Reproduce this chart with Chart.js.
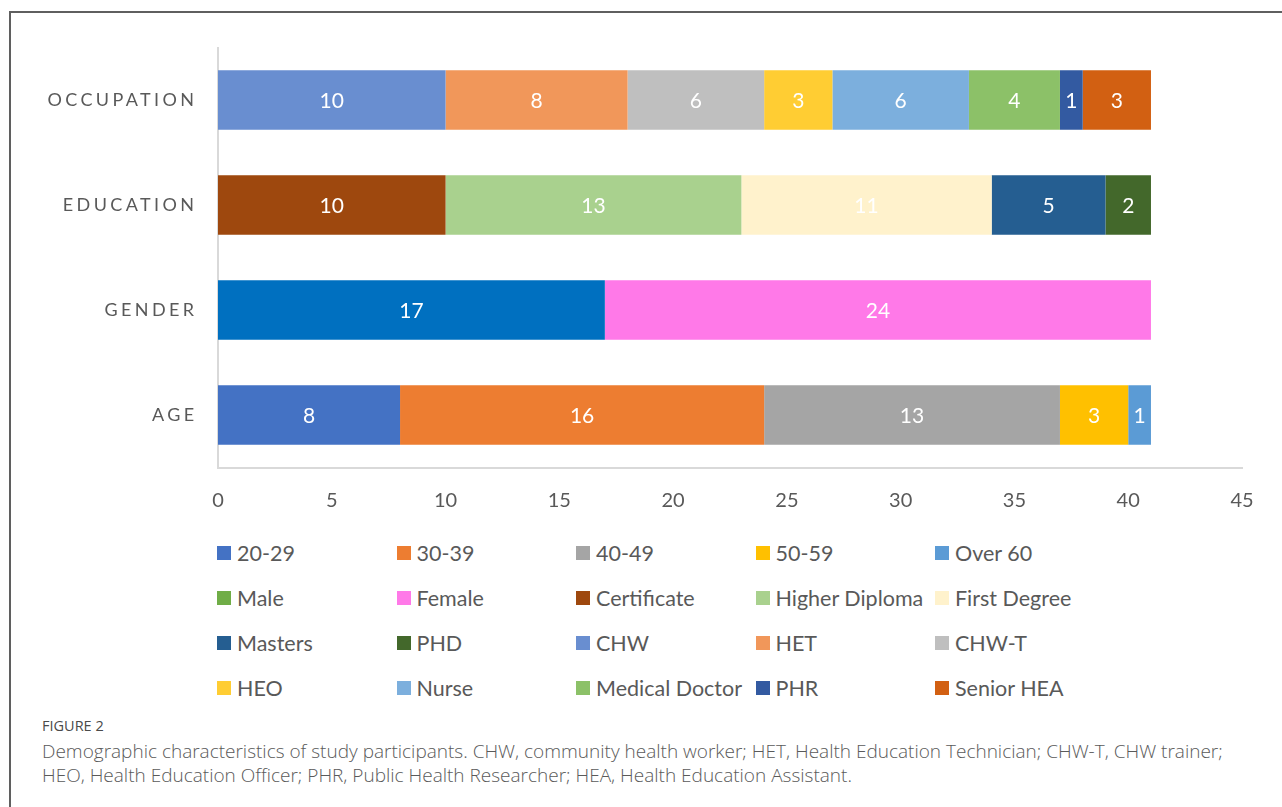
<!DOCTYPE html>
<html>
<head>
<meta charset="utf-8">
<script src="https://cdn.jsdelivr.net/npm/chart.js@4.4.1/dist/chart.umd.min.js"></script>
<style>
  html, body { margin: 0; padding: 0; background: #ffffff; }
  body { width: 1282px; height: 807px; position: relative; overflow: hidden; font-family: Lato, "Open Sans", sans-serif; }
  #frame { position: absolute; left: 9px; top: 11px; width: 1300px; height: 820px; border-left: 2px solid #5f5f5f; border-top: 2px solid #5f5f5f; }
  #wrap { position: absolute; left: 0; top: 0; width: 1282px; height: 530px; }
  #legend { position: absolute; left: 217px; top: 530px; display: grid; grid-template-columns: repeat(5, 179.5px); grid-auto-rows: 45px; }
  .li { display: flex; align-items: center; white-space: nowrap; font-size: 21.5px; color: #595959; }
  .sw { width: 14px; height: 14px; margin-right: 6px; flex: none; }
  #fig { position: absolute; left: 42px; top: 716px; font-family: "Open Sans", sans-serif; font-size: 14.5px; font-weight: 500; color: #4a4a4a; }
  #cap { position: absolute; left: 42px; top: 739px; width: 1240px; white-space: nowrap; font-family: "Open Sans", sans-serif; font-size: 19px; line-height: 24px; color: #5a5a5a; font-weight: 300; }
</style>
</head>
<body>
<div id="frame"></div>
<div id="wrap"><canvas id="c" width="1282" height="530"></canvas></div>
<div id="legend"></div>
<div id="fig">FIGURE 2</div>
<div id="cap">Demographic characteristics of study participants. CHW, community health worker; HET, Health Education Technician; CHW-T, CHW trainer;<br>HEO, Health Education Officer; PHR, Public Health Researcher; HEA, Health Education Assistant.</div>
<script>
// ---- data ----
const categories = ['OCCUPATION', 'EDUCATION', 'GENDER', 'AGE'];
const xTicks = [0, 5, 10, 15, 20, 25, 30, 35, 40, 45];

const ageNames = ['20-29', '30-39', '40-49', '50-59', 'Over 60'];
const ageValues = [8, 16, 13, 3, 1];

const genderNames = ['Male', 'Female'];
const genderValues = [17, 24];

const educationNames = ['Certificate', 'Higher Diploma', 'First Degree', 'Masters', 'PHD'];
const educationValues = [10, 13, 11, 5, 2];

const occupationNames = ['CHW', 'HET', 'CHW-T', 'HEO', 'Nurse', 'Medical Doctor', 'PHR', 'Senior HEA'];
const occupationValues = [10, 8, 6, 3, 6, 4, 1, 3];

// ---- styles ----
const ageColors = ['#4472C4', '#ED7D31', '#A5A5A5', '#FFC000', '#5B9BD5'];
const genderLegendColors = ['#70AD47', '#FF79E8'];
const genderBarColors = ['#0070C0', '#FF79E8'];
const educationColors = ['#9E480E', '#A9D18E', '#FFF2CC', '#255E91', '#43682B'];
const occupationColors = ['#698ED0', '#F1975A', '#BFBFBF', '#FFCD33', '#7CAFDD', '#8CC168', '#335AA1', '#D26012'];

const datasets = [];
const legendItems = [];
function addGroup(cat, names, values, barColors, legendColors) {
  const ci = categories.indexOf(cat);
  names.forEach((n, i) => {
    const data = categories.map((_, k) => (k === ci ? values[i] : null));
    datasets.push({ label: n, data: data, backgroundColor: barColors[i], borderWidth: 0 });
    legendItems.push({ text: n, color: legendColors[i] });
  });
}
addGroup('AGE', ageNames, ageValues, ageColors, ageColors);
addGroup('GENDER', genderNames, genderValues, genderBarColors, genderLegendColors);
addGroup('EDUCATION', educationNames, educationValues, educationColors, educationColors);
addGroup('OCCUPATION', occupationNames, occupationValues, occupationColors, occupationColors);

const valueLabels = {
  id: 'valueLabels',
  afterDatasetsDraw(chart) {
    const ctx = chart.ctx;
    ctx.save();
    ctx.font = '21px Lato';
    ctx.fillStyle = '#ffffff';
    ctx.textAlign = 'center';
    ctx.textBaseline = 'middle';
    chart.data.datasets.forEach((ds, di) => {
      const meta = chart.getDatasetMeta(di);
      meta.data.forEach((el, i) => {
        const v = ds.data[i];
        if (v === null || v === undefined) return;
        const p = el.getCenterPoint();
        ctx.fillText(String(v), p.x, p.y + 1);
      });
    });
    ctx.restore();
  }
};

const spacedY = {
  id: 'spacedY',
  beforeDraw(chart) {
    const ys = chart.scales.y;
    if (ys && !ys.__spaced) {
      const orig = ys.drawLabels;
      ys.drawLabels = function (area) {
        const ctx = this.ctx;
        ctx.save();
        ctx.letterSpacing = '3.4px';
        orig.call(this, area);
        ctx.restore();
      };
      ys.__spaced = true;
    }
  }
};

const chart = new Chart(document.getElementById('c'), {
  type: 'bar',
  data: { labels: categories, datasets: datasets },
  options: {
    indexAxis: 'y',
    responsive: false,
    animation: false,
    devicePixelRatio: 1,
    layout: { padding: { left: 0, top: 47.5, right: 40, bottom: 12.5 } },
    datasets: { bar: { categoryPercentage: 1, barPercentage: 0.565 } },
    plugins: { legend: { display: false }, tooltip: { enabled: false } },
    scales: {
      x: {
        stacked: true,
        min: 0, max: 45,
        afterFit(s) { s.height = 50; },
        afterBuildTicks(s) { s.ticks = xTicks.map(v => ({ value: v })); },
        grid: { display: false, drawTicks: false },
        border: { display: true, color: '#D9D9D9', width: 2 },
        ticks: { padding: 21, color: '#595959', font: { family: 'Lato', size: 20 } }
      },
      y: {
        stacked: true,
        afterFit(s) { s.width = 218; },
        grid: { display: false, drawTicks: false },
        border: { display: true, color: '#D9D9D9', width: 2 },
        ticks: { padding: 20.5, color: '#595959', font: { family: 'Lato', size: 18 } }
      }
    }
  },
  plugins: [valueLabels, spacedY]
});

// legend (grid like the reference), built from the chart's series
const lg = document.getElementById('legend');
legendItems.forEach(it => {
  const d = document.createElement('div');
  d.className = 'li';
  const sw = document.createElement('span');
  sw.className = 'sw';
  sw.style.background = it.color;
  const t = document.createElement('span');
  t.textContent = it.text;
  d.appendChild(sw); d.appendChild(t);
  lg.appendChild(d);
});
</script>
</body>
</html>
